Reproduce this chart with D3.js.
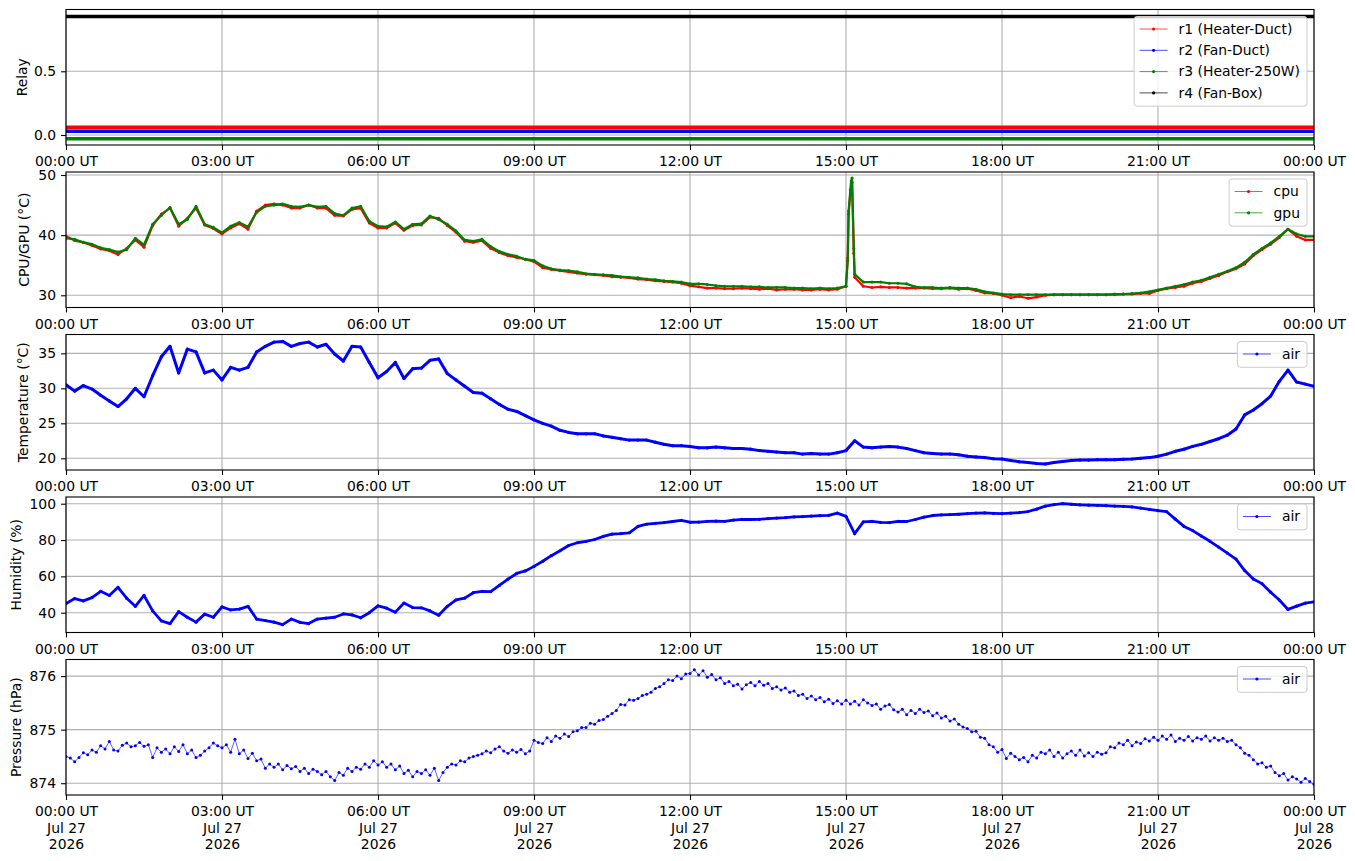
<!DOCTYPE html>
<html>
<head>
<meta charset="utf-8">
<script src="https://d3js.org/d3.v7.min.js"></script>
<style>
  body { margin: 0; background: #fff; }
  text { font-family: "DejaVu Sans", sans-serif; }
</style>
</head>
<body>
<svg id="chart" width="1355" height="861"></svg>
<script>
// one day of sensor readings, Jul 27 2026 (UT)
var START = Date.UTC(2026, 6, 27, 0, 0);
var END = Date.UTC(2026, 6, 28, 0, 0);

// relays, one reading per hour (values offset so the four lines stay apart)
var relayNames = ["r1 (Heater-Duct)", "r2 (Fan-Duct)", "r3 (Heater-250W)", "r4 (Fan-Box)"];
var relayColors = ["red", "blue", "green", "black"];
var relayR1 = [0.06,0.06,0.06,0.06,0.06,0.06,0.06,0.06,0.06,0.06,0.06,0.06,0.06,0.06,0.06,0.06,0.06,0.06,0.06,0.06,0.06,0.06,0.06,0.06,0.06];
var relayR2 = [0.03,0.03,0.03,0.03,0.03,0.03,0.03,0.03,0.03,0.03,0.03,0.03,0.03,0.03,0.03,0.03,0.03,0.03,0.03,0.03,0.03,0.03,0.03,0.03,0.03];
var relayR3 = [-0.03,-0.03,-0.03,-0.03,-0.03,-0.03,-0.03,-0.03,-0.03,-0.03,-0.03,-0.03,-0.03,-0.03,-0.03,-0.03,-0.03,-0.03,-0.03,-0.03,-0.03,-0.03,-0.03,-0.03,-0.03];
var relayR4 = [0.93,0.93,0.93,0.93,0.93,0.93,0.93,0.93,0.93,0.93,0.93,0.93,0.93,0.93,0.93,0.93,0.93,0.93,0.93,0.93,0.93,0.93,0.93,0.93,0.93];

// cpu / gpu temperature, every 10 minutes (one row per hour)
var cpuTemp = [
  39.8, 39.1, 38.8, 38.3, 37.7, 37.4,
  36.8, 37.8, 39.2, 38.0, 41.6, 43.5,
  44.5, 41.5, 42.8, 44.5, 41.7, 41.1,
  40.2, 41.2, 41.9, 41.0, 44.0, 45.0,
  45.2, 45.0, 44.5, 44.5, 45.0, 44.5,
  44.5, 43.3, 43.2, 44.3, 44.5, 42.0,
  41.2, 41.2, 42.0, 40.8, 41.6, 41.7,
  43.0, 42.8, 41.6, 40.5, 39.0, 38.8,
  39.1, 37.8, 37.1, 36.6, 36.3, 36.0,
  35.6, 34.6, 34.3, 34.1, 33.9, 33.7,
  33.5, 33.4, 33.3, 33.1, 33.0, 32.9,
  32.7, 32.6, 32.4, 32.3, 32.2, 32.0,
  31.6, 31.4, 31.2, 31.2, 31.1, 31.1,
  31.2, 31.1, 31.0, 31.1, 30.9, 31.0,
  31.0, 30.9, 30.9, 31.0, 30.9, 31.0,
  31.5, 33.0, 31.5, 31.3, 31.4, 31.3,
  31.3, 31.2, 31.2, 31.2, 31.1, 31.1,
  31.2, 31.0, 31.1, 30.8, 30.4, 30.3,
  30.0, 29.6, 29.8, 29.5, 29.7, 30.0,
  30.1, 30.1, 30.1, 30.1, 30.1, 30.1,
  30.1, 30.1, 30.2, 30.2, 30.3, 30.3,
  30.8, 31.1, 31.3, 31.5, 32.0, 32.3,
  32.8, 33.3, 33.9, 34.4, 35.2, 36.6,
  37.6, 38.5, 39.6, 41.0, 39.8, 39.2,
  39.2
];
var gpuTemp = [
  39.5, 39.3, 38.8, 38.5, 37.9, 37.6,
  37.2, 37.6, 39.5, 38.4, 41.8, 43.3,
  44.6, 41.8, 42.6, 44.8, 41.8, 41.3,
  40.4, 41.5, 42.1, 41.4, 43.8, 44.8,
  45.0, 45.2, 44.8, 44.7, 45.0, 44.7,
  44.8, 43.6, 43.3, 44.5, 44.8, 42.3,
  41.5, 41.4, 42.2, 41.0, 41.8, 41.9,
  43.2, 42.6, 41.8, 40.7, 39.2, 39.0,
  39.3, 38.1, 37.3, 36.8, 36.5, 36.0,
  35.8, 34.9, 34.4, 34.2, 34.1, 33.9,
  33.6, 33.5, 33.4, 33.3, 33.1, 33.0,
  32.9, 32.7, 32.6, 32.4, 32.3, 32.2,
  31.9, 31.9, 31.8, 31.6, 31.5, 31.5,
  31.5, 31.4, 31.4, 31.3, 31.3, 31.3,
  31.2, 31.2, 31.1, 31.2, 31.1, 31.2,
  31.5, 33.5, 32.2, 32.2, 32.2, 32.0,
  32.0, 31.9, 31.4, 31.3, 31.3, 31.2,
  31.3, 31.2, 31.2, 31.0, 30.6, 30.4,
  30.2, 30.1, 30.1, 30.1, 30.1, 30.1,
  30.1, 30.1, 30.1, 30.1, 30.1, 30.1,
  30.1, 30.2, 30.2, 30.3, 30.4, 30.6,
  30.9, 31.2, 31.5, 31.8, 32.2, 32.5,
  33.0, 33.5, 34.0, 34.6, 35.5, 36.8,
  37.8, 38.7, 39.8, 41.0, 40.2, 39.8,
  39.8
];
// short load burst just after 15:00 (minutes after midnight)
var spikeMinutes = [902, 903, 905, 906, 907, 909];
var spikeCpu = [36.2, 43.5, 47.0, 48.5, 48.8, 37.0];
var spikeGpu = [35.8, 44.0, 47.5, 49.0, 49.5, 37.8];

// air temperature, every 10 minutes
var airTemp = [
  30.5, 29.6, 30.4, 29.9, 29.0, 28.2,
  27.4, 28.5, 30.0, 28.8, 31.8, 34.5,
  36.0, 32.2, 35.6, 35.2, 32.2, 32.6,
  31.2, 33.0, 32.6, 33.0, 35.2, 36.0,
  36.6, 36.7, 36.0, 36.4, 36.6, 35.9,
  36.3, 34.9, 33.9, 36.0, 35.9, 33.7,
  31.5, 32.4, 33.7, 31.4, 32.8, 32.9,
  34.0, 34.2, 32.1, 31.2, 30.3, 29.4,
  29.3, 28.5, 27.7, 27.0, 26.7, 26.1,
  25.5, 25.0, 24.6, 24.0, 23.7, 23.5,
  23.5, 23.5, 23.2, 23.0, 22.8, 22.6,
  22.6, 22.6, 22.3, 22.0, 21.8, 21.8,
  21.7, 21.5, 21.5, 21.6, 21.5, 21.4,
  21.4, 21.3, 21.1, 21.0, 20.9, 20.8,
  20.8, 20.6, 20.7, 20.6, 20.6, 20.8,
  21.1, 22.5, 21.6, 21.5, 21.6, 21.7,
  21.6, 21.4, 21.1, 20.8, 20.7, 20.6,
  20.6, 20.5, 20.3, 20.2, 20.1, 19.95,
  19.9, 19.7, 19.5, 19.4, 19.25, 19.2,
  19.4, 19.55, 19.7, 19.75, 19.75, 19.8,
  19.8, 19.8, 19.85, 19.9, 20.0, 20.1,
  20.3, 20.6, 21.0, 21.3, 21.7, 22.0,
  22.4, 22.8, 23.3, 24.2, 26.2, 26.9,
  27.8, 28.9, 31.0, 32.6, 30.9, 30.6,
  30.3
];

// relative humidity, every 10 minutes
var airHumidity = [
  45.0, 47.8, 46.5, 48.3, 51.8, 49.5,
  54.0, 48.0, 43.5, 49.5, 41.0, 35.5,
  34.0, 40.6, 37.5, 34.8, 39.2, 37.5,
  43.2, 41.5, 42.0, 43.5, 36.5, 35.7,
  34.8, 33.4, 36.5, 34.7, 34.0, 36.5,
  37.0, 37.5, 39.3, 38.8, 37.2, 40.0,
  43.8, 42.5, 40.3, 45.3, 42.8, 42.7,
  41.0, 38.6, 43.5, 47.0, 48.0, 51.0,
  51.7, 51.6, 55.0, 58.5, 61.6, 63.0,
  65.5, 68.3, 71.4, 74.1, 77.0, 78.5,
  79.2, 80.3, 82.0, 83.2, 83.5, 84.0,
  87.5, 88.7, 89.2, 89.6, 90.2, 90.8,
  89.8, 89.9, 90.3, 90.4, 90.3, 91.0,
  91.4, 91.3, 91.4, 91.8, 92.1, 92.3,
  92.7, 92.9, 93.2, 93.4, 93.6, 94.8,
  93.0, 83.5, 90.0, 90.3, 89.7, 89.6,
  90.3, 90.2, 91.3, 92.6, 93.5, 93.8,
  94.0, 94.2, 94.5, 94.8, 95.0, 94.7,
  94.5, 94.8, 95.1, 95.7, 97.0, 98.7,
  99.5, 100.0, 99.7, 99.4, 99.2, 99.1,
  98.9, 98.7, 98.5, 98.2, 97.6, 96.9,
  96.2, 95.6, 91.5, 87.5, 85.2, 82.2,
  79.3, 76.1, 72.8, 69.5, 63.2, 58.5,
  56.0, 51.3, 47.0, 41.8, 43.6, 45.3,
  46.0
];

// pressure, every 5 minutes (one row per hour)
var airPressure = [
  874.50, 874.47, 874.40, 874.48, 874.57, 874.53, 874.62, 874.58, 874.70, 874.64, 874.78, 874.62,
  874.60, 874.71, 874.75, 874.68, 874.70, 874.76, 874.69, 874.72, 874.48, 874.66, 874.58, 874.64,
  874.55, 874.68, 874.59, 874.72, 874.55, 874.62, 874.48, 874.52, 874.60, 874.66, 874.75, 874.70,
  874.66, 874.72, 874.58, 874.82, 874.55, 874.62, 874.46, 874.56, 874.42, 874.45, 874.28, 874.36,
  874.30, 874.36, 874.25, 874.33, 874.27, 874.31, 874.22, 874.28, 874.18, 874.26, 874.22, 874.16,
  874.22, 874.12, 874.05, 874.20, 874.15, 874.28, 874.22, 874.30, 874.26, 874.36, 874.30, 874.42,
  874.34, 874.40, 874.30, 874.36, 874.25, 874.32, 874.18, 874.24, 874.12, 874.22, 874.18, 874.25,
  874.15, 874.28, 874.05, 874.20, 874.30, 874.36, 874.34, 874.42, 874.40, 874.47, 874.50, 874.52,
  874.55, 874.60, 874.57, 874.64, 874.68, 874.60, 874.56, 874.62, 874.58, 874.63, 874.55, 874.60,
  874.80, 874.76, 874.74, 874.85, 874.78, 874.88, 874.84, 874.92, 874.87, 874.96, 874.98, 875.04,
  875.04, 875.12, 875.10, 875.17, 875.19, 875.25, 875.30, 875.36, 875.47, 875.46, 875.56, 875.55,
  875.58, 875.64, 875.66, 875.70, 875.77, 875.80, 875.86, 875.93, 875.92, 876.00, 875.95, 876.04,
  876.05, 876.12, 876.02, 876.10, 875.98, 876.03, 875.93, 875.97, 875.86, 875.90, 875.82, 875.85,
  875.76, 875.84, 875.88, 875.82, 875.90, 875.83, 875.86, 875.77, 875.80, 875.74, 875.78, 875.70,
  875.72, 875.64, 875.66, 875.58, 875.63, 875.56, 875.60, 875.52, 875.57, 875.49, 875.54, 875.48,
  875.55, 875.48, 875.53, 875.46, 875.56, 875.50, 875.45, 875.48, 875.38, 875.44, 875.47, 875.37,
  875.33, 875.38, 875.28, 875.36, 875.30, 875.38, 875.32, 875.35, 875.26, 875.31, 875.22, 875.25,
  875.16, 875.20, 875.10, 875.05, 875.02, 874.96, 874.97, 874.86, 874.84, 874.72, 874.68, 874.58,
  874.63, 874.46, 874.56, 874.50, 874.44, 874.48, 874.40, 874.52, 874.47, 874.58, 874.55, 874.62,
  874.50, 874.58, 874.47, 874.55, 874.60, 874.52, 874.62, 874.51, 874.57, 874.50, 874.58, 874.54,
  874.57, 874.68, 874.66, 874.75, 874.72, 874.80, 874.70, 874.77, 874.74, 874.83, 874.79, 874.86,
  874.80, 874.88, 874.82, 874.90, 874.78, 874.84, 874.80, 874.87, 874.79, 874.85, 874.82, 874.88,
  874.79, 874.85, 874.80, 874.84, 874.78, 874.80, 874.72, 874.66, 874.56, 874.52, 874.44, 874.36,
  874.38, 874.30, 874.32, 874.20, 874.14, 874.18, 874.06, 874.12, 874.08, 874.02, 874.09, 874.03,
  873.98
];

// y tick labels per panel
var relayTicks = [0.0, 0.5];
var cpuTicks = [30, 40, 50];
var tempTicks = [20, 25, 30, 35];
var humTicks = [40, 60, 80, 100];
var presTicks = [874, 875, 876];

var svg = d3.select("#chart");
var left = 66, right = 1314, panelH = 135.5;
var FONT = 13.9;

var x = d3.scaleUtc().domain([new Date(START), new Date(END)]).range([left, right]);
var xTicks = d3.utcHour.every(3).range(new Date(START), new Date(END + 1));

function times(stepMin, n) {
    return d3.range(n).map(function(i) { return new Date(START + i * stepMin * 60000); });
}
function zip(ts, vals) {
    return ts.map(function(t, i) { return {t: t, v: vals[i]}; });
}
function withSpike(vals, spikeVals) {
    var pts = zip(times(10, vals.length), vals);
    spikeMinutes.forEach(function(m, i) {
        pts.push({t: new Date(START + m * 60000), v: spikeVals[i]});
    });
    return pts.sort(function(a, b) { return a.t - b.t; });
}

var t60 = times(60, 25), t10 = times(10, 145), t5 = times(5, 289);

var panels = [
    {id: 1, top: 9.5, domain: [-0.0785, 0.985], ticks: relayTicks, fmt: d3.format(".1f"),
     label: "Relay", labelX: 22.5,
     series: [relayR1, relayR2, relayR3, relayR4].map(function(vals, i) {
         return {name: relayNames[i], color: relayColors[i], data: zip(t60, vals), width: 3.6, opacity: 1, r: 0};
     })},
    {id: 2, top: 172, domain: [27.97, 50.5], ticks: cpuTicks, fmt: d3.format("d"),
     label: "CPU/GPU (°C)", labelX: 24,
     series: [
         {name: "cpu", color: "red", data: withSpike(cpuTemp, spikeCpu), width: 2.2, opacity: 1, r: 1.5},
         {name: "gpu", color: "green", data: withSpike(gpuTemp, spikeGpu), width: 2.2, opacity: 1, r: 1.5}
     ]},
    {id: 3, top: 334.5, domain: [18.33, 37.69], ticks: tempTicks, fmt: d3.format("d"),
     label: "Temperature (°C)", labelX: 23,
     series: [{name: "air", color: "blue", data: zip(t10, airTemp), width: 3, opacity: 1, r: 1.6}]},
    {id: 4, top: 497, domain: [29.1, 103.69], ticks: humTicks, fmt: d3.format("d"),
     label: "Humidity (%)", labelX: 16,
     series: [{name: "air", color: "blue", data: zip(t10, airHumidity), width: 2.8, opacity: 1, r: 1.6}]},
    {id: 5, top: 659.5, domain: [873.78, 876.31], ticks: presTicks, fmt: d3.format("d"),
     label: "Pressure (hPa)", labelX: 16,
     series: [{name: "air", color: "blue", data: zip(t5, airPressure), width: 0.8, opacity: 0.8, r: 1.5}]}
];

function drawPanel(p, last) {
    var top = p.top, bottom = p.top + panelH;
    var y = d3.scaleLinear().domain(p.domain).range([bottom, top]);
    var g = svg.append("g").attr("class", "panel" + p.id);

    // grid
    g.append("g").selectAll("line").data(xTicks).enter().append("line")
        .attr("x1", function(d) { return x(d); }).attr("x2", function(d) { return x(d); })
        .attr("y1", top).attr("y2", bottom)
        .attr("stroke", "#b0b0b0").attr("stroke-width", 1.1);
    g.append("g").selectAll("line").data(p.ticks).enter().append("line")
        .attr("x1", left).attr("x2", right)
        .attr("y1", function(d) { return y(d); }).attr("y2", function(d) { return y(d); })
        .attr("stroke", "#b0b0b0").attr("stroke-width", 1.1);

    svg.append("clipPath").attr("id", "clip" + p.id)
        .append("rect").attr("x", left).attr("y", top).attr("width", right - left).attr("height", panelH);
    var plot = g.append("g").attr("clip-path", "url(#clip" + p.id + ")");

    var line = d3.line().x(function(d) { return x(d.t); }).y(function(d) { return y(d.v); });
    p.series.forEach(function(s) {
        plot.append("path").datum(s.data)
            .attr("d", line)
            .attr("fill", "none")
            .attr("stroke", s.color)
            .attr("stroke-opacity", s.opacity)
            .attr("stroke-width", s.width)
            .attr("stroke-linejoin", "round");
        if (s.r > 0) {
            plot.append("g").selectAll("circle").data(s.data).enter().append("circle")
                .attr("cx", function(d) { return x(d.t); })
                .attr("cy", function(d) { return y(d.v); })
                .attr("r", s.r)
                .attr("fill", s.color);
        }
    });

    // spines
    g.append("rect").attr("x", left).attr("y", top).attr("width", right - left).attr("height", panelH)
        .attr("fill", "none").attr("stroke", "black").attr("stroke-width", 1.1);

    var yAxis = g.append("g")
        .attr("transform", "translate(" + left + ",0)")
        .call(d3.axisLeft(y).tickValues(p.ticks).tickFormat(p.fmt).tickSize(4.9).tickPadding(5.1));
    var xAxis = g.append("g")
        .attr("transform", "translate(0," + bottom + ")")
        .call(d3.axisBottom(x).tickValues(xTicks).tickFormat(d3.utcFormat("%H:%M UT")).tickSize(4.9).tickPadding(6.7));
    [yAxis, xAxis].forEach(function(a) {
        a.select(".domain").remove();
        a.attr("font-size", FONT).attr("font-family", "DejaVu Sans");
        a.selectAll(".tick line").attr("stroke", "black").attr("stroke-width", 1.1);
        a.selectAll(".tick text").attr("fill", "black");
    });
    if (last) {
        xAxis.selectAll(".tick text").each(function(d) {
            var t = d3.select(this);
            t.append("tspan").attr("x", 0).attr("dy", "1.17em").text(d3.utcFormat("%b %d")(d));
            t.append("tspan").attr("x", 0).attr("dy", "1.17em").text(d3.utcFormat("%Y")(d));
        });
    }

    // y label
    g.append("text")
        .attr("transform", "translate(" + p.labelX + "," + (top + panelH / 2) + ") rotate(-90)")
        .attr("dy", "0.35em")
        .attr("text-anchor", "middle")
        .attr("font-size", FONT)
        .text(p.label);

    // legend
    var lg = g.append("g");
    var boxTop = top + 7, rowH = 21.3;
    var texts = [];
    p.series.forEach(function(s, i) {
        var cy = boxTop + 12.5 + i * rowH;
        lg.append("line").attr("class", "lgl").attr("y1", cy).attr("y2", cy)
            .attr("stroke", s.color).attr("stroke-opacity", 0.7).attr("stroke-width", 1);
        lg.append("circle").attr("class", "lgc").attr("cy", cy).attr("r", 1.6).attr("fill", s.color);
        texts.push(lg.append("text").attr("y", cy).attr("dy", "0.35em").attr("font-size", FONT).text(s.name));
    });
    var tw = d3.max(texts, function(t) { return t.node().getComputedTextLength(); });
    var boxW = tw + 51.5, boxL = right - 7 - boxW;
    lg.selectAll(".lgl").attr("x1", boxL + 5.5).attr("x2", boxL + 33.5);
    lg.selectAll(".lgc").attr("cx", boxL + 19.5);
    texts.forEach(function(t) { t.attr("x", boxL + 44.5); });
    lg.insert("rect", ":first-child")
        .attr("x", boxL).attr("y", boxTop).attr("width", boxW).attr("height", rowH * p.series.length + 4.5)
        .attr("rx", 3).attr("fill", "white").attr("fill-opacity", 0.8)
        .attr("stroke", "#cccccc").attr("stroke-width", 1);
}

panels.forEach(function(p, i) { drawPanel(p, i === panels.length - 1); });
</script>
</body>
</html>
